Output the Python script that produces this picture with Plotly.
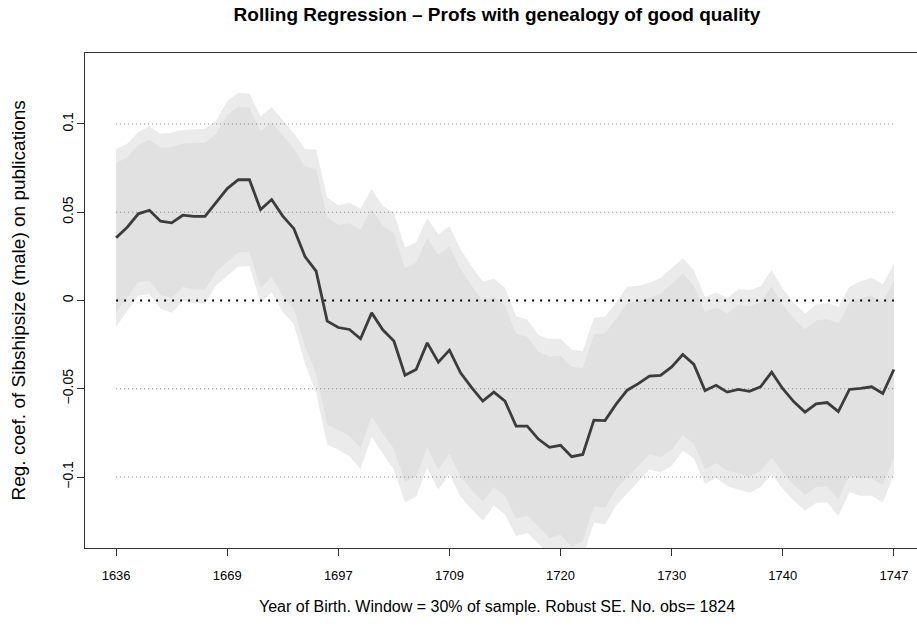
import plotly.graph_objects as go

# ---- data ----
coef = [0.0355, 0.0415, 0.0491, 0.0511, 0.0449, 0.0440, 0.0483, 0.0477, 0.0477, 0.0553,
        0.0634, 0.0685, 0.0684, 0.0515, 0.0572, 0.0478, 0.0407, 0.0249, 0.0166, -0.0117,
        -0.0153, -0.0164, -0.0217, -0.0070, -0.0166, -0.0230, -0.0423, -0.0391, -0.0240, -0.0349,
        -0.0281, -0.0410, -0.0494, -0.0570, -0.0519, -0.0570, -0.0712, -0.0712, -0.0785, -0.0832,
        -0.0820, -0.0885, -0.0872, -0.0678, -0.0680, -0.0587, -0.0508, -0.0471, -0.0428, -0.0424,
        -0.0376, -0.0306, -0.0362, -0.0510, -0.0480, -0.0519, -0.0504, -0.0515, -0.0489, -0.0406,
        -0.0500, -0.0574, -0.0632, -0.0585, -0.0578, -0.0629, -0.0504, -0.0498, -0.0489, -0.0527,
        -0.0391]

se = [0.0257, 0.0241, 0.0236, 0.0243, 0.0253, 0.0260, 0.0247, 0.0251, 0.0253, 0.0238,
      0.0253, 0.0251, 0.0249, 0.0270, 0.0267, 0.0277, 0.0276, 0.0310, 0.0352, 0.0357,
      0.0353, 0.0366, 0.0376, 0.0358, 0.0358, 0.0371, 0.0368, 0.0368, 0.0361, 0.0369,
      0.0358, 0.0357, 0.0351, 0.0346, 0.0328, 0.0328, 0.0318, 0.0308, 0.0301, 0.0313,
      0.0308, 0.0310, 0.0298, 0.0296, 0.0300, 0.0293, 0.0299, 0.0283, 0.0270, 0.0281,
      0.0286, 0.0278, 0.0272, 0.0270, 0.0268, 0.0271, 0.0290, 0.0293, 0.0290, 0.0295,
      0.0289, 0.0286, 0.0285, 0.0287, 0.0288, 0.0302, 0.0297, 0.0310, 0.0315, 0.0315,
      0.0305]

tick_index = [1, 11, 21, 31, 41, 51, 61, 71]
tick_years = ["1636", "1669", "1697", "1709", "1720", "1730", "1740", "1747"]
y_ticks = [-0.1, -0.05, 0, 0.05, 0.1]
y_ticktext = ["\u22120.1", "\u22120.05", "0", "0.05", "0.1"]
ref_gray = [-0.1, -0.05, 0.05, 0.1]

idx = list(range(1, len(coef) + 1))
z95, z90 = 1.96, 1.645
up95 = [c + z95 * s for c, s in zip(coef, se)]
lo95 = [c - z95 * s for c, s in zip(coef, se)]
up90 = [c + z90 * s for c, s in zip(coef, se)]
lo90 = [c - z90 * s for c, s in zip(coef, se)]

FONT = "Liberation Sans, Arial, Helvetica, sans-serif"

W, H = 917, 628
L, T, B = 85, 53, 80
PW, PH = W - L, H - T - B

fig = go.Figure()
fig.add_trace(go.Scatter(x=idx + idx[::-1], y=up95 + lo95[::-1], fill="toself",
                         fillcolor="#ebebeb", line=dict(width=0), mode="lines",
                         hoverinfo="skip", showlegend=False))
fig.add_trace(go.Scatter(x=idx + idx[::-1], y=up90 + lo90[::-1], fill="toself",
                         fillcolor="#e1e1e1", line=dict(width=0), mode="lines",
                         hoverinfo="skip", showlegend=False))
for v in ref_gray:
    fig.add_trace(go.Scatter(x=[idx[0], idx[-1]], y=[v, v], mode="lines",
                             line=dict(color="#808080", width=1, dash="1px,3px"),
                             hoverinfo="skip", showlegend=False))
fig.add_trace(go.Scatter(x=[idx[0], idx[-1]], y=[0, 0], mode="lines",
                         line=dict(color="#000000", width=2, dash="2px,6px"),
                         hoverinfo="skip", showlegend=False))
fig.add_trace(go.Scatter(x=idx, y=coef, mode="lines",
                         line=dict(color="#3c3c3c", width=2.8),
                         showlegend=False))

fig.update_layout(
    width=W, height=H,
    margin=dict(l=L, r=0, t=T, b=B, pad=0),
    paper_bgcolor="white", plot_bgcolor="white",
    font=dict(family=FONT, size=13, color="#000000"),
    title=dict(text="<b>Rolling Regression \u2013 Profs with genealogy of good quality</b>",
               xref="container", x=497 / W, xanchor="center",
               yref="container", y=1 - 14 / H, yanchor="middle",
               font=dict(family=FONT, size=19, color="#000000")),
    xaxis=dict(range=[-1.8, 73.8 - (925 - W) / 11.114], tickmode="array", tickvals=tick_index,
               ticktext=tick_years, ticks="outside", ticklen=7, tickcolor="#333333",
               showline=True, mirror=True, linecolor="#333333", linewidth=1,
               showgrid=False, zeroline=False, fixedrange=True,
               ticklabelstandoff=8, tickfont=dict(size=13)),
    yaxis=dict(range=[-0.1402, 0.1402], tickmode="array", tickvals=y_ticks,
               ticktext=y_ticktext, tickangle=-90, ticks="outside", ticklen=7,
               tickcolor="#333333", showline=True, mirror=False, linecolor="#333333",
               linewidth=1, showgrid=False, zeroline=False, fixedrange=True,
               ticklabelstandoff=-2, tickfont=dict(size=14)),
    annotations=[
        dict(text="Reg. coef. of Sibshipsize (male) on publications", textangle=-90,
             xref="paper", yref="paper", x=(18 - L) / PW, y=0.5,
             xanchor="center", yanchor="middle", showarrow=False,
             font=dict(size=19)),
        dict(text="Year of Birth. Window = 30% of sample. Robust SE. No. obs= 1824",
             xref="paper", yref="paper", x=(497 - L) / PW, y=-(606 - (H - B)) / PH,
             xanchor="center", yanchor="middle", showarrow=False,
             font=dict(size=16)),
    ],
)

# remove the default page margin so the figure fills the window exactly
fig.write_html("out.html", config={"displayModeBar": False},
               post_script="document.body.style.margin='0';document.body.style.padding='0';")
